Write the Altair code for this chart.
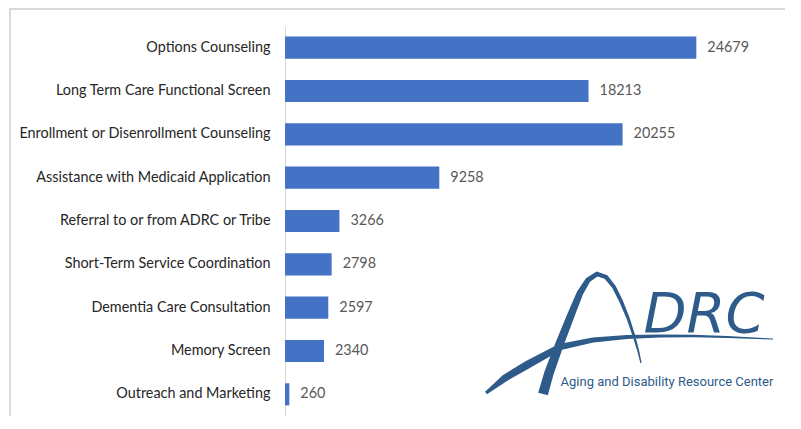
import math
import altair as alt
import pandas as pd

categories = [
    "Options Counseling",
    "Long Term Care Functional Screen",
    "Enrollment or Disenrollment Counseling",
    "Assistance with Medicaid Application",
    "Referral to or from ADRC or Tribe",
    "Short-Term Service Coordination",
    "Dementia Care Consultation",
    "Memory Screen",
    "Outreach and Marketing",
]
values = [24679, 18213, 20255, 9258, 3266, 2798, 2597, 2340, 260]

logo_title = "DRC"
logo_subtitle = "Aging and Disability Resource Center"

df = pd.DataFrame({"service": categories, "count": values})

# ---------- layout (plot area origin is at page x=285, y=26) ----------
OX, OY = 285, 26
BAR_BLUE = "#4472C4"
LOGO_BLUE = "#2E5B8A"


def stroke_path(center, widths, cx, cy, s):
    """Outline of a tapered brush stroke as an SVG path in symbol units."""
    up, down = [], []
    n = len(center)
    for i, (x, y) in enumerate(center):
        x0, y0 = center[max(i - 1, 0)]
        x1, y1 = center[min(i + 1, n - 1)]
        dx, dy = x1 - x0, y1 - y0
        L = math.hypot(dx, dy) or 1
        nx, ny = -dy / L, dx / L
        w = widths[i] / 2
        up.append((x + nx * w, y + ny * w))
        down.append((x - nx * w, y - ny * w))
    pts = up + down[::-1]
    return "M" + " L".join(
        f"{(px - cx) / s:.4f},{(py - cy) / s:.4f}" for px, py in pts
    ) + " Z"


LOGO_CX, LOGO_CY, LOGO_S = 630, 332, 100.0
swoosh_line = [(486, 393), (505, 378), (527, 365), (560, 347), (593, 340),
               (627, 337), (660, 336), (693, 336), (727, 337), (773, 339)]
swoosh_w = [3, 7, 8, 6.5, 5, 4, 3.2, 2.6, 2, 1]
arch_line = [(543, 394), (549, 373), (560, 343), (571, 315), (580, 293),
             (588, 280), (597, 274), (606, 277), (614, 287), (621, 301),
             (628, 318), (634, 336), (638, 350), (641, 363)]
arch_w = [10, 9.5, 8.5, 7.5, 6.5, 5.5, 5, 4.5, 4, 3.8, 3.2, 2.6, 2, 1.2]
logo_shape = (stroke_path(swoosh_line, swoosh_w, LOGO_CX, LOGO_CY, LOGO_S) + " "
              + stroke_path(arch_line, arch_w, LOGO_CX, LOGO_CY, LOGO_S))

y_enc = alt.Y(
    "service:N",
    sort=categories,
    scale=alt.Scale(paddingInner=0.49, paddingOuter=0.245),
    axis=alt.Axis(
        title=None, ticks=False, tickSize=0, labelPadding=15,
        labelFont="Lato", labelFontSize=14.4, labelColor="#262626",
        domainColor="#d9d9d9", domainWidth=1, labelLimit=400,
    ),
)
x_enc = alt.X("count:Q", scale=alt.Scale(domain=[0, 30000], nice=False), axis=None)

base = alt.Chart(df)
bars = base.mark_bar(color=BAR_BLUE).encode(y=y_enc, x=x_enc)
labels = base.mark_text(
    align="left", baseline="middle", dx=11, font="Lato", fontSize=14.4, color="#595959"
).encode(y=y_enc, x=x_enc, text=alt.Text("count:Q", format="d"))

one = alt.Data(values=[{"k": 1}])

frame_top = alt.Chart(one).mark_rule(color="#d9d9d9", strokeWidth=2).encode(
    x=alt.value(10 - OX), x2=alt.value(801 - OX), y=alt.value(9 - OY)
)
frame_left = alt.Chart(one).mark_rule(color="#d9d9d9", strokeWidth=2).encode(
    x=alt.value(10 - OX), y=alt.value(8 - OY), y2=alt.value(429 - OY)
)

logo_marks = alt.Chart(one).mark_point(
    shape=logo_shape, filled=True, fill=LOGO_BLUE, strokeWidth=0, opacity=1
).encode(
    x=alt.value(LOGO_CX - OX), y=alt.value(LOGO_CY - OY),
    size=alt.value((2 * LOGO_S) ** 2),
)
logo_title_mark = alt.Chart(one).mark_text(
    text=logo_title, font="DejaVu Sans", fontStyle="italic", fontSize=56,
    color=LOGO_BLUE, align="center", baseline="alphabetic",
).encode(x=alt.value(704 - OX), y=alt.value(332 - OY))
logo_sub_mark = alt.Chart(one).mark_text(
    text=logo_subtitle, font="Roboto", fontSize=13,
    color=LOGO_BLUE, align="center", baseline="alphabetic",
).encode(x=alt.value(667 - OX), y=alt.value(386 - OY))

chart = alt.layer(
    frame_top, frame_left, bars, labels, logo_marks, logo_title_mark, logo_sub_mark
).properties(
    width=500,
    height=390,
    autosize=alt.AutoSizeParams(type="none"),
    padding={"left": 277, "top": 18, "right": 0, "bottom": 0},
).configure_view(stroke=None)

chart.save("out.html", embed_options={"renderer": "svg", "actions": False})
